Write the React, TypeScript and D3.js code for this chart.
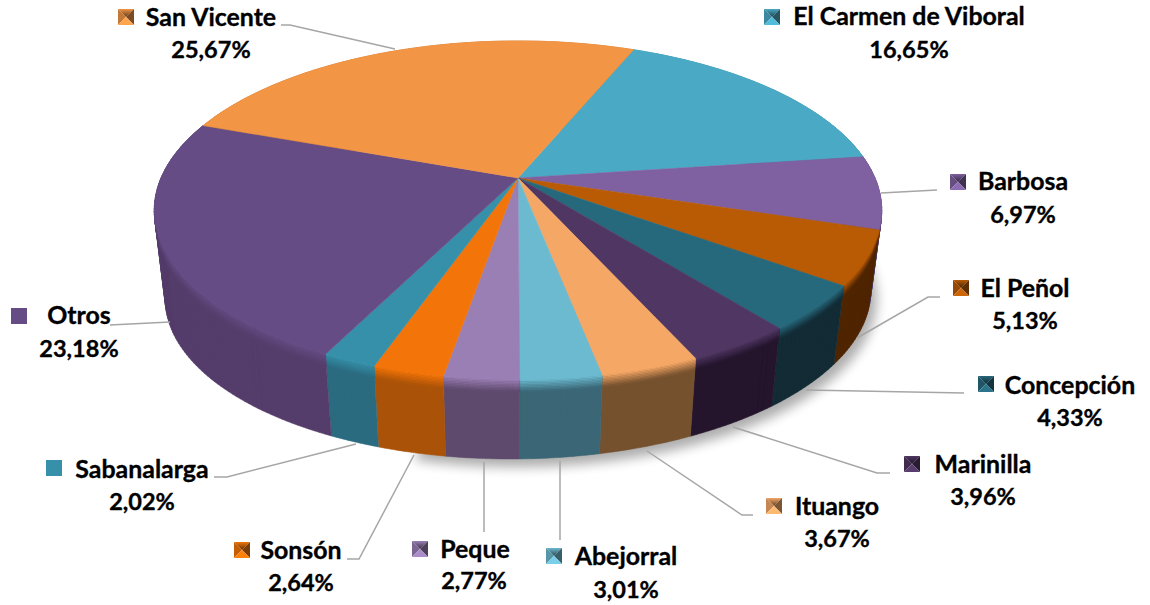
import React from "react";
import * as d3 from "d3";

const categories = ["El Carmen de Viboral", "Barbosa", "El Peñol", "Concepción", "Marinilla", "Ituango", "Abejorral", "Peque", "Sonsón", "Sabanalarga", "Otros", "San Vicente"];
const values = [16.65, 6.97, 5.13, 4.33, 3.96, 3.67, 3.01, 2.77, 2.64, 2.02, 23.18, 25.67];
const valueLabels = ["16,65%", "6,97%", "5,13%", "4,33%", "3,96%", "3,67%", "3,01%", "2,77%", "2,64%", "2,02%", "23,18%", "25,67%"];
const topColors = ["#4aaac5", "#7f60a0", "#b95b05", "#27697c", "#503763", "#f5a766", "#6cbad0", "#9a7fb5", "#f37408", "#3690aa", "#654c84", "#f29545"];
const sideColors = ["#2f7f96", "#4f3a68", "#4f2500", "#122b35", "#24142c", "#75512e", "#3a6675", "#5e4a6c", "#aa5308", "#2b6b80", "#553d6b", "#b06a2c"];
const flatMarkers = ["Sabanalarga", "Otros"];

type Layout = { mx: number; my: number; tx: number; ty: number; px: number; py: number; line: [number, number][] };
const layout: Layout[] = [
  { mx: 764, my: 9, tx: 909, ty: 17, px: 909, py: 50, line: [] },
  { mx: 950, my: 174, tx: 1023, ty: 182, px: 1023, py: 215, line: [[881, 193], [937, 190]] },
  { mx: 953, my: 280, tx: 1025, ty: 289, px: 1025, py: 321, line: [[857, 338], [928, 297], [940, 297]] },
  { mx: 978, my: 376, tx: 1070, ty: 386, px: 1070, py: 418, line: [[806, 390], [964, 393]] },
  { mx: 904, my: 456, tx: 983, ty: 465, px: 983, py: 497, line: [[733, 427], [877, 473], [890, 473]] },
  { mx: 766, my: 498, tx: 837, ty: 507, px: 837, py: 539, line: [[647, 451], [742, 515], [753, 515]] },
  { mx: 546, my: 548, tx: 626, ty: 557, px: 626, py: 590, line: [[560, 461], [560, 540]] },
  { mx: 412, my: 541, tx: 475, ty: 550, px: 474, py: 581, line: [[484, 462], [484, 532]] },
  { mx: 234, my: 542, tx: 301, ty: 551, px: 301, py: 583, line: [[414, 455], [359, 559], [347, 559]] },
  { mx: 46, my: 460, tx: 142, ty: 470, px: 142, py: 502, line: [[356, 444], [227, 477], [214, 477]] },
  { mx: 11, my: 308, tx: 79, ty: 316, px: 79, py: 349, line: [[170, 322], [110, 325]] },
  { mx: 118, my: 9, tx: 211, ty: 18, px: 211, py: 50, line: [[281, 25], [290, 25], [395, 49]] },
];

const APEX_X = 518, APEX_Y = 178, B = 357, A = 163.3, K = 0.1917, DEPTH = 85, SHRINK = 0.03, TILT = 0.05;
const START = (22.4 * Math.PI) / 180;
const project = (theta: number, t: number): [number, number] => {
  const u = Math.sin(theta), v = Math.cos(theta), w = 1 + K * v, s = 1 - SHRINK * t;
  return [APEX_X + (s * B * u) / w, APEX_Y + DEPTH * t * (1 - TILT * u) - (s * A * v) / w];
};
const arcPts = (a0: number, a1: number, t: number) => {
  const n = Math.max(4, Math.ceil((a1 - a0) * 60));
  return d3.range(n + 1).map((i) => project(a0 + ((a1 - a0) * i) / n, t));
};
const line = d3.line();
const closed = (pts: [number, number][]) => (line(pts) as string) + "Z";
// Each small quad is wound the same way, so a strip that folds over the pie's silhouette fills as a union.
const strip = (a0: number, a1: number, t0: number, t1: number) => {
  const p = arcPts(a0, a1, t0), q = arcPts(a0, a1, t1);
  return d3.range(p.length - 1).map((i) => {
    const quad: [number, number][] = [p[i], p[i + 1], q[i + 1], q[i]];
    return closed(d3.polygonArea(quad) < 0 ? quad.reverse() : quad);
  }).join("");
};

const arcs = d3.pie<number>().value((d) => d).sort(null).startAngle(START).endAngle(START + 2 * Math.PI)(values);
const bevelSteps = d3.range(8);
const BEVEL = 0.15;
const shadowShape = closed([[APEX_X, APEX_Y + DEPTH], ...arcPts((60 * Math.PI) / 180, (195 * Math.PI) / 180, 1)]);

const Marker = ({ x, y, color, flat }: { x: number; y: number; color: string; flat: boolean }) => {
  const S = 16, c = S / 2;
  if (flat) return <rect x={x} y={y} width={S} height={S} fill={color} />;
  const d = d3.color(color)!;
  const top = `M0 0L${S} 0L${c} ${c}Z`;
  const tris: [string, string][] = [
    [top, color],
    [top, "url(#mg)"],
    [`M0 0L0 ${S}L${c} ${c}Z`, d.darker(0.6).formatHex()],
    [`M${S} 0L${S} ${S}L${c} ${c}Z`, d.darker(1.9).formatHex()],
    [`M0 ${S}L${S} ${S}L${c} ${c}Z`, d.brighter(0.3).formatHex()],
  ];
  return (
    <g transform={`translate(${x},${y})`}>
      {tris.map(([p, f], i) => <path key={i} d={p} fill={f} />)}
    </g>
  );
};

export default function App() {
  return (
    <svg width={1150} height={605} viewBox="0 0 1150 605" style={{ position: "absolute", left: 0, top: 0, background: "#fff" }}
      fontFamily="Lato, Carlito, sans-serif" fontWeight={700} stroke="none">
      <defs>
        <filter id="sh" x="-20%" y="-20%" width="140%" height="140%">
          <feGaussianBlur stdDeviation="6" />
        </filter>
        <linearGradient id="mg" x1="0" y1="0" x2="0" y2="1">
          <stop offset="0" stopColor="#000" stopOpacity={0} />
          <stop offset="1" stopColor="#000" stopOpacity={0.6} />
        </linearGradient>
      </defs>
      <path d={shadowShape} transform="translate(6,8)" fill="#000" opacity={0.32} filter="url(#sh)" />
      {arcs.map((a, i) => (
        <g key={categories[i]}>
          <path d={strip(a.startAngle, a.endAngle, 0, 1)} fill={sideColors[i]} stroke={sideColors[i]} strokeWidth={0.5} />
          {bevelSteps.map((j) => (
            <path key={j} d={strip(a.startAngle, a.endAngle, (BEVEL * j) / 8, (BEVEL * (j + 1)) / 8)}
              fill={d3.interpolateRgb(topColors[i], sideColors[i])((j + 0.5) / 8)}
              stroke={d3.interpolateRgb(topColors[i], sideColors[i])((j + 0.5) / 8)} strokeWidth={0.4} />
          ))}
        </g>
      ))}
      {arcs.map((a, i) => (
        <path key={categories[i]} d={closed([[APEX_X, APEX_Y], ...arcPts(a.startAngle, a.endAngle, 0)])}
          fill={topColors[i]} stroke={topColors[i]} strokeWidth={0.5} />
      ))}
      {layout.map((l, i) => (
        <g key={categories[i]}>
          {l.line.length > 0 && <path d={line(l.line) as string} fill="none" stroke="#a6a6a6" strokeWidth={1.5} />}
          <Marker x={l.mx} y={l.my} color={topColors[i]} flat={flatMarkers.includes(categories[i])} />
          <text x={l.tx} y={l.ty + 8} textAnchor="middle" fontSize={24.9} stroke="#000" strokeWidth={0.35}>{categories[i]}</text>
          <text x={l.px} y={l.py + 8} textAnchor="middle" fontSize={23.5} stroke="#000" strokeWidth={0.35}>{valueLabels[i]}</text>
        </g>
      ))}
    </svg>
  );
}
